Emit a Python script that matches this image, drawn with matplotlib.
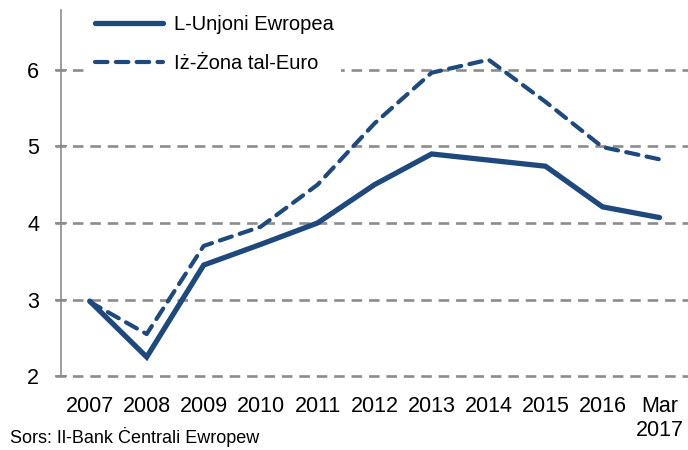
import matplotlib.pyplot as plt

plt.rcParams['font.family'] = ['Liberation Sans', 'DejaVu Sans']

# data
years = ['2007', '2008', '2009', '2010', '2011', '2012', '2013', '2014',
         '2015', '2016', 'Mar\n2017']
eu = [2.98, 2.25, 3.45, 3.72, 4.0, 4.5, 4.9, 4.82, 4.74, 4.21, 4.07]
euro = [2.97, 2.55, 3.7, 3.95, 4.5, 5.3, 5.96, 6.13, 5.58, 4.99, 4.83]

blue = '#1f497d'
grey = '#8c8c8c'

fig = plt.figure(figsize=(6.88, 4.5), dpi=100)
ax = fig.add_axes([0.089, 0.164, 0.911, 0.814])

x = range(len(years))
ax.plot(x, eu, color=blue, lw=3.8, solid_capstyle='round',
        solid_joinstyle='miter', label='L-Unjoni Ewropea')
ax.plot(x, euro, color=blue, lw=3.0, ls=(0, (3, 2)), dash_capstyle='round',
        label='Iż-Żona tal-Euro')

ax.set_xlim(-0.5, len(years) - 0.5)
ax.set_ylim(2, 6.78)
ax.set_yticks([2, 3, 4, 5, 6])
ax.set_xticks(list(x))
ax.set_xticklabels(years)

for y in [2, 3, 4, 5, 6]:
    ax.axhline(y, color=grey, lw=1.9, ls=(0, (4, 2.6)), zorder=0, xmin=-0.01,
               clip_on=False)

for s in ['top', 'right', 'bottom']:
    ax.spines[s].set_visible(False)
ax.spines['left'].set_color(grey)
ax.spines['left'].set_linewidth(1.2)

ax.tick_params(axis='y', direction='inout', length=8, width=1.2, color=grey,
               labelsize=15.5, pad=12)
ax.tick_params(axis='x', length=0, labelsize=15.5, pad=14)

leg = ax.legend(loc='upper left', bbox_to_anchor=(0.025, 1.035), frameon=True,
                facecolor='white', edgecolor='none', framealpha=1,
                fancybox=False, borderpad=0.4,
                fontsize=14.5, handlelength=3.4, handletextpad=0.5,
                labelspacing=1.0)

fig.text(0.015, 0.028, 'Sors: Il-Bank Ċentrali Ewropew', fontsize=13,
         va='center')

fig.savefig('out.png', dpi=100)
